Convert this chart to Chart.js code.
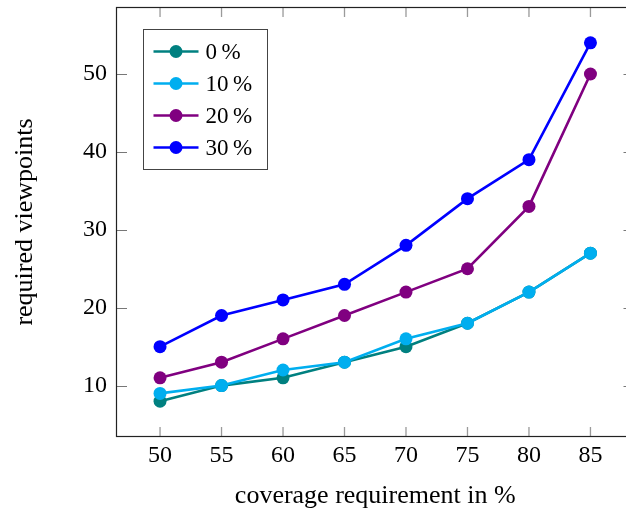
<!DOCTYPE html>
<html>
<head>
<meta charset="utf-8">
<script src="https://cdn.jsdelivr.net/npm/chart.js@4/dist/chart.umd.min.js"></script>
<style>
    html, body { margin: 0; padding: 0; background: #fff; overflow: hidden; }
    #wrap { width: 626px; height: 516px; overflow: hidden; }
</style>
</head>
<body>
<div id="wrap"><canvas id="viewpointsChart" width="640" height="516"></canvas></div>
<script>
// Datos
const coverage = [50, 55, 60, 65, 70, 75, 80, 85];
const seriesLabels = ['0\u2009%', '10\u2009%', '20\u2009%', '30\u2009%'];
const seriesColors = ['#008080', '#00AEEF', '#800080', '#0000FF'];
const views0 = [8, 10, 11, 13, 15, 18, 22, 27];
const views10 = [9, 10, 12, 13, 16, 18, 22, 27];
const views20 = [11, 13, 16, 19, 22, 25, 33, 50];
const views30 = [15, 19, 21, 23, 28, 34, 39, 54];
const xTicks = [50, 55, 60, 65, 70, 75, 80, 85];
const yTicks = [10, 20, 30, 40, 50];

const FONT = "'Liberation Serif', 'DejaVu Serif', serif";
const allSeries = [views0, views10, views20, views30];

// Marco tipo pgfplots con marcas hacia dentro
const framePlugin = {
    id: 'frame',
    beforeDatasetsDraw(chart) {
        const { ctx, chartArea: a, scales } = chart;
        const tl = 10;
        ctx.save();
        // marcas del eje x (abajo y arriba)
        ctx.strokeStyle = '#9a9a9a';
        ctx.lineWidth = 1.3;
        xTicks.forEach(v => {
            const x = scales.x.getPixelForValue(v);
            ctx.beginPath();
            ctx.moveTo(x, a.bottom);
            ctx.lineTo(x, a.bottom - tl);
            ctx.moveTo(x, a.top);
            ctx.lineTo(x, a.top + tl);
            ctx.stroke();
        });
        // marcas del eje y (izquierda y derecha)
        ctx.strokeStyle = '#777';
        ctx.lineWidth = 1;
        yTicks.forEach(v => {
            const y = Math.round(scales.y.getPixelForValue(v)) + 0.5;
            ctx.beginPath();
            ctx.moveTo(a.left, y);
            ctx.lineTo(a.left + tl, y);
            ctx.moveTo(a.right, y);
            ctx.lineTo(a.right - tl, y);
            ctx.stroke();
        });
        // caja
        ctx.strokeStyle = '#222';
        ctx.lineWidth = 1.2;
        ctx.strokeRect(a.left - 0.5, a.top + 0.5, a.right - a.left, a.bottom - a.top - 1);
        ctx.restore();
    }
};

// Leyenda dentro del área del gráfico
const legendPlugin = {
    id: 'insideLegend',
    afterDraw(chart) {
        const { ctx, chartArea: a } = chart;
        const bx = a.left + 26.5, by = a.top + 22.5, bw = 124, bh = 140;
        ctx.save();
        ctx.fillStyle = '#fff';
        ctx.fillRect(bx, by, bw, bh);
        ctx.strokeStyle = '#444';
        ctx.lineWidth = 1;
        ctx.strokeRect(bx, by, bw, bh);
        ctx.font = '23px ' + FONT;
        ctx.textBaseline = 'middle';
        chart.data.datasets.forEach((ds, i) => {
            const y = by + 22 + i * 32;
            ctx.strokeStyle = ds.borderColor;
            ctx.lineWidth = 2.6;
            ctx.beginPath();
            ctx.moveTo(bx + 10, y);
            ctx.lineTo(bx + 55, y);
            ctx.stroke();
            ctx.fillStyle = ds.borderColor;
            ctx.beginPath();
            ctx.arc(bx + 32.5, y, 6.5, 0, Math.PI * 2);
            ctx.fill();
            ctx.fillStyle = '#000';
            ctx.fillText(ds.label, bx + 62, y + 1);
        });
        ctx.restore();
    }
};

const datasets = allSeries.map((vals, i) => ({
    label: seriesLabels[i],
    data: coverage.map((c, j) => ({ x: c, y: vals[j] })),
    borderColor: seriesColors[i],
    backgroundColor: seriesColors[i],
    borderWidth: 2.6,
    pointRadius: 6.5,
    pointBorderWidth: 0,
    pointHoverRadius: 6.5,
    tension: 0,
    fill: false,
    order: allSeries.length - i
}));

new Chart(document.getElementById('viewpointsChart'), {
    type: 'line',
    data: { datasets },
    options: {
        responsive: false,
        animation: false,
        layout: { padding: { top: 7, right: 3, left: 0, bottom: 0 } },
        plugins: {
            legend: { display: false },
            tooltip: { enabled: false }
        },
        scales: {
            x: {
                type: 'linear',
                min: 46.5,
                max: 88.5,
                grid: { display: false, drawTicks: false },
                border: { display: false },
                afterBuildTicks: s => { s.ticks = xTicks.map(v => ({ value: v })); },
                afterFit: s => { s.height = 79; s.paddingLeft = 0; s.paddingRight = 0; },
                ticks: {
                    color: '#000',
                    padding: 4,
                    maxRotation: 0,
                    font: { family: FONT, size: 24 }
                },
                title: {
                    display: true,
                    text: 'coverage requirement in %',
                    color: '#000',
                    font: { family: FONT, size: 26 },
                    padding: { top: 0, bottom: 4 }
                }
            },
            y: {
                type: 'linear',
                min: 3.4,
                max: 58.6,
                grid: { display: false, drawTicks: false },
                border: { display: false },
                afterBuildTicks: s => { s.ticks = yTicks.map(v => ({ value: v })); },
                afterFit: s => { s.width = 117; s.paddingTop = 0; s.paddingBottom = 0; },
                ticks: {
                    color: '#000',
                    padding: 10,
                    font: { family: FONT, size: 24 }
                },
                title: {
                    display: true,
                    text: 'required viewpoints',
                    color: '#000',
                    font: { family: FONT, size: 26 },
                    padding: { top: 10, bottom: 0 }
                }
            }
        }
    },
    plugins: [framePlugin, legendPlugin]
});
</script>
</body>
</html>
